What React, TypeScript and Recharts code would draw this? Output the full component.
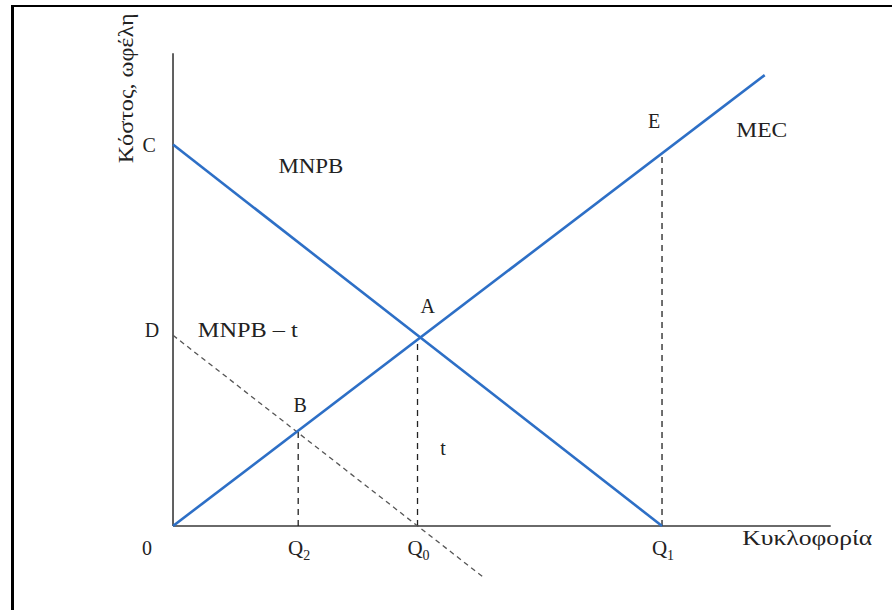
import React from "react";
import { ComposedChart, Line, XAxis, YAxis, ReferenceLine, ReferenceDot } from "recharts";

// curves (q = traffic, v = cost / benefit)
const mnpb = [
  { q: 0, v: 7.8 },
  { q: 10, v: 0 },
];
const mec = [
  { q: 0, v: 0 },
  { q: 12.1, v: 9.22 },
];
const mnpbTax = [
  { q: 0, v: 3.9 },
  { q: 6.35, v: -1.05 },
];

// quantities on the horizontal axis and the heights they are dropped from
const qNames = ["2", "0", "1"];
const qValues = [2.56, 5, 10];
const qHeights = [1.93, 3.82, 7.62];

const xAxisEnd = 13.45;
const yAxisTop = 9.67;

// text on the figure: [text, q, v, width]
const tags: [string, number, number, number?][] = [
  ["C", -0.49, 7.65],
  ["D", -0.43, 3.87],
  ["0", -0.53, -0.59],
  ["E", 9.84, 8.14],
  ["MEC", 12.04, 7.95, 51],
  ["MNPB", 2.82, 7.22, 65],
  ["A", 5.21, 4.36],
  ["B", 2.6, 2.33],
  ["t", 5.52, 1.45],
  ["MNPB – t", 1.53, 3.87, 100],
  ["Κυκλοφορία", 12.97, -0.39, 130],
];
const yTitle = "Κόστος, ωφέλη";

const FONT = "'Liberation Serif', 'Times New Roman', serif";
const BLUE = "#2d6fc6";
const INK = "#222";

const renderTag = ([text, q, v, w]: [string, number, number, number?], i: number) => (
  <ReferenceDot
    key={"t" + i}
    x={q}
    y={v}
    r={0}
    ifOverflow="visible"
    shape={(p: any) => (
      <text
        x={p.cx}
        y={p.cy}
        textAnchor="middle"
        fontFamily={FONT}
        fontSize={20}
        fill={INK}
        {...(w ? { textLength: w, lengthAdjust: "spacingAndGlyphs" } : {})}
      >
        {text}
      </text>
    )}
  />
);

export default function App() {
  return (
    <div style={{ position: "absolute", left: 0, top: 0, width: 892, height: 610, background: "#fff", overflow: "hidden" }}>
      <div
        style={{
          position: "absolute",
          left: 11,
          top: 5,
          width: 890,
          height: 620,
          borderTop: "2.5px solid #000",
          borderLeft: "3px solid #000",
        }}
      />
      <ComposedChart width={892} height={610} margin={{ top: 0, right: 0, bottom: 0, left: 0 }} style={{ position: "absolute", left: 0, top: 0 }}>
        <XAxis type="number" dataKey="q" domain={[-3.538, 14.703]} hide allowDataOverflow />
        <YAxis type="number" dataKey="v" domain={[-1.718, 10.757]} hide allowDataOverflow />

        {/* axes */}
        <ReferenceLine segment={[{ x: 0, y: 0 }, { x: 0, y: yAxisTop }]} stroke="#3a3a3a" strokeWidth={1.6} />
        <ReferenceLine segment={[{ x: 0, y: 0 }, { x: xAxisEnd, y: 0 }]} stroke="#6a6a6a" strokeWidth={2.2} />

        {/* drop lines */}
        {qValues.map((q, i) => (
          <ReferenceLine
            key={"d" + i}
            segment={[{ x: q, y: 0 }, { x: q, y: qHeights[i] }]}
            stroke={INK}
            strokeWidth={1.3}
            strokeDasharray="6 5"
          />
        ))}

        <Line data={mnpbTax} dataKey="v" type="linear" stroke="#555" strokeWidth={1.3} strokeDasharray="5 4" dot={false} activeDot={false} isAnimationActive={false} />
        <Line data={mnpb} dataKey="v" type="linear" stroke={BLUE} strokeWidth={2.6} dot={false} activeDot={false} isAnimationActive={false} />
        <Line data={mec} dataKey="v" type="linear" stroke={BLUE} strokeWidth={2.6} dot={false} activeDot={false} isAnimationActive={false} />

        {/* Q ticks */}
        {qValues.map((q, i) => (
          <ReferenceDot
            key={"q" + i}
            x={q}
            y={0}
            r={0}
            ifOverflow="visible"
            shape={(p: any) => (
              <text x={p.cx + 1} y={p.cy + 29} textAnchor="middle" fontFamily={FONT} fontSize={21} fill={INK}>
                Q
                <tspan fontSize={14} dy={5}>
                  {qNames[i]}
                </tspan>
              </text>
            )}
          />
        ))}

        {tags.map(renderTag)}

        <ReferenceDot
          x={-0.96}
          y={8.95}
          r={0}
          ifOverflow="visible"
          shape={(p: any) => (
            <text
              x={p.cx}
              y={p.cy}
              transform={`rotate(-90 ${p.cx} ${p.cy})`}
              textAnchor="middle"
              dominantBaseline="central"
              fontFamily={FONT}
              fontSize={20}
              fill={INK}
              textLength={150}
              lengthAdjust="spacingAndGlyphs"
            >
              {yTitle}
            </text>
          )}
        />
      </ComposedChart>
    </div>
  );
}
